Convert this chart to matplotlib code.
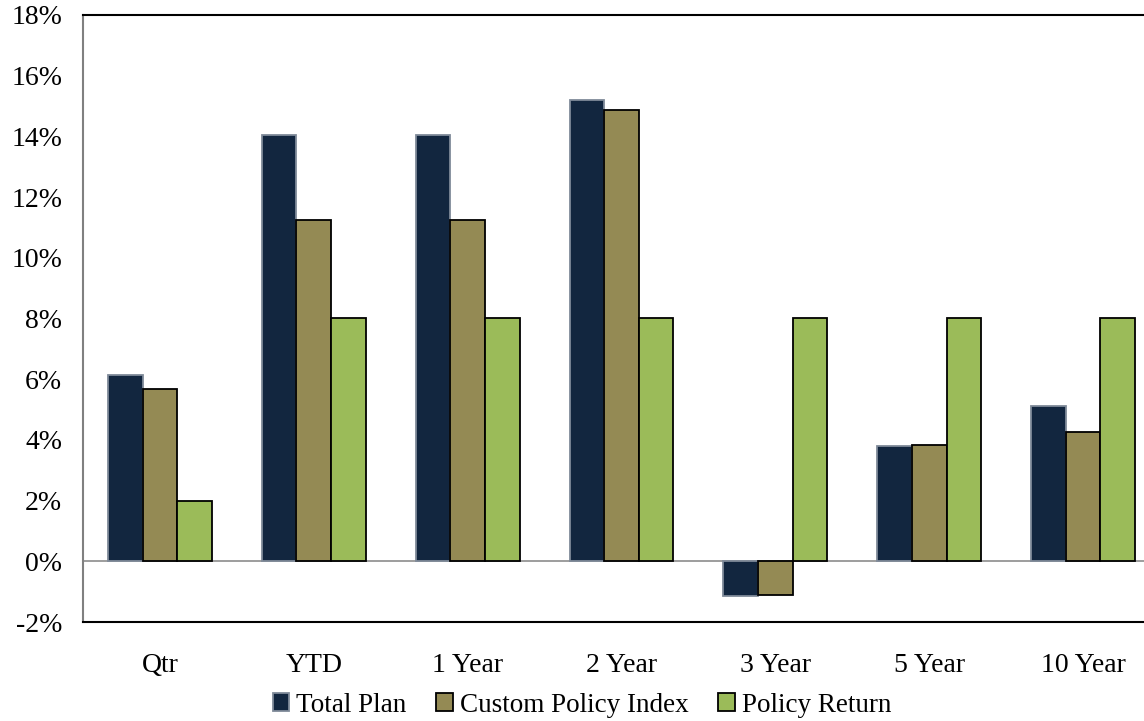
import matplotlib.pyplot as plt
import numpy as np
from matplotlib.ticker import FuncFormatter

plt.rcParams['font.family'] = ['Liberation Serif', 'DejaVu Serif']

# Periods and returns (%)
periods = ['Qtr', 'YTD', '1 Year', '2 Year', '3 Year', '5 Year', '10 Year']
total_plan = [6.14, 14.03, 14.03, 15.19, -1.15, 3.79, 5.13]
custom_policy = [5.68, 11.26, 11.26, 14.87, -1.10, 3.84, 4.26]
policy_return = [2.0, 8.0, 8.0, 8.0, 8.0, 8.0, 8.0]

series_names = ['Total Plan', 'Custom Policy Index', 'Policy Return']
colors = ['#12263F', '#948A54', '#9BBB59']
edges = ['#7F8A99', 'black', 'black']

fig = plt.figure(figsize=(11.44, 7.21), dpi=100)
# plot area runs a bit past the right edge of the figure
ax = fig.add_axes([83 / 1144, 1 - 622 / 721, 1077 / 1144, 607 / 721])

x = np.arange(len(periods))
w = 0.225
for i, (vals, name) in enumerate(zip([total_plan, custom_policy, policy_return], series_names)):
    ax.bar(x + (i - 1) * w, vals, width=w, color=colors[i], edgecolor=edges[i],
           linewidth=1.3, label=name, zorder=3)

ax.axhline(0, color='#8C8C8C', linewidth=1.2, zorder=2)

ax.set_xlim(-0.5, len(periods) - 0.5)
ax.set_ylim(-2, 18)
ax.set_yticks(np.arange(-2, 19, 2))
ax.yaxis.set_major_formatter(FuncFormatter(lambda v, p: f'{v:.0f}%'))
ax.set_xticks(x)
ax.set_xticklabels(periods)
ax.tick_params(axis='both', length=0, labelsize=20)
ax.tick_params(axis='x', pad=22)
ax.tick_params(axis='y', pad=15)

ax.spines['left'].set_color('#808080')
ax.spines['left'].set_linewidth(1.5)
ax.spines['top'].set_linewidth(1.5)
ax.spines['bottom'].set_linewidth(1.5)
ax.spines['right'].set_visible(False)

fig.legend(loc='center', bbox_to_anchor=(582 / 1144, 1 - 705 / 721), ncol=3,
           frameon=False, fontsize=19.5, handlelength=0.62, handleheight=0.62,
           handletextpad=0.25, columnspacing=1.1, borderpad=0)

fig.savefig('out.png', dpi=100)
